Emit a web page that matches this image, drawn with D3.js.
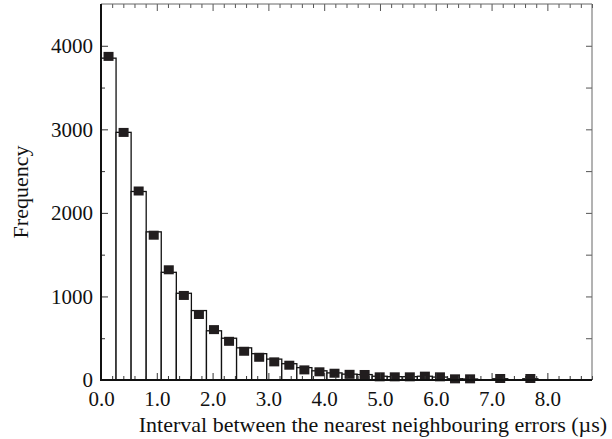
<!DOCTYPE html>
<html>
<head>
<meta charset="utf-8">
<script src="https://cdn.jsdelivr.net/npm/d3@7"></script>
<style>
  body { margin: 0; background: #fff; }
  svg text { font-family: "Liberation Serif", "Times New Roman", serif; fill: #111; }
</style>
</head>
<body>
<svg id="chart" width="612" height="439"></svg>
<script>
// histogram of intervals, bin width 0.27 us
var binWidth = 0.27;
var barCounts = [3852, 2964, 2256, 1773, 1289, 1038, 831, 589, 500, 385, 315, 250, 195, 148,
                 110, 85, 70, 65, 45, 40, 40, 45, 35, 15, 12, 0, 15, 0, 15];
// measured points drawn over the bars (null = no point)
var markerCounts = [3867, 2957, 2256, 1727, 1313, 1006, 778, 597, 457, 338, 266, 211, 171, 115,
                    92, 75, 62, 60, 32, 32, 32, 40, 32, 8, 8, null, 12, null, 12];

var xTicks = [0, 1, 2, 3, 4, 5, 6, 7, 8];
var yTicks = [0, 1000, 2000, 3000, 4000];
var xTitle = "Interval between the nearest neighbouring errors (\u00b5s)";
var yTitle = "Frequency";

var svg = d3.select("#chart");
var m = {left: 101, right: 592, top: 4, bottom: 380};

var x = d3.scaleLinear().domain([0, 8.8]).range([m.left, m.right]);
var y = d3.scaleLinear().domain([0, 4500]).range([m.bottom, m.top]);

var bins = barCounts.map(function (c, i) {
    return {x0: i * binWidth, x1: (i + 1) * binWidth, count: c, mark: markerCounts[i]};
});

// bars: white with black outline
svg.append("g").selectAll("rect").data(bins.filter(function (d) { return d.count > 0; }))
    .enter().append("rect")
    .attr("x", function (d) { return x(d.x0); })
    .attr("y", function (d) { return y(d.count); })
    .attr("width", function (d) { return x(d.x1) - x(d.x0); })
    .attr("height", function (d) { return y(0) - y(d.count); })
    .attr("fill", "#fff").attr("stroke", "#111").attr("stroke-width", 1.3);

// square markers at bin centres
var sq = 10;
svg.append("g").selectAll("rect").data(bins.filter(function (d) { return d.mark != null; }))
    .enter().append("rect")
    .attr("x", function (d) { return x((d.x0 + d.x1) / 2) - sq / 2; })
    .attr("y", function (d) { return y(d.mark) - sq / 2; })
    .attr("width", sq).attr("height", sq - 1)
    .attr("fill", "#211d1e");

// minor ticks every 0.2 / 500
var xMinor = d3.range(0, 8.81, 0.2).filter(function (v) { return Math.abs(v - Math.round(v)) > 1e-6; });
var yMinor = [500, 1500, 2500, 3500];

function styleAxis(g, col) {
    g.select(".domain").remove();
    g.selectAll(".tick line").attr("stroke", col).attr("stroke-width", 1);
}

// bottom + left with labels
var gxb = svg.append("g").attr("transform", "translate(0," + m.bottom + ")")
    .call(d3.axisBottom(x).tickValues(xTicks).tickSizeInner(-7).tickSizeOuter(0)
        .tickPadding(11).tickFormat(d3.format(".1f")));
styleAxis(gxb, "#333");
gxb.selectAll("text").attr("font-size", 21).attr("fill", "#111");
svg.append("g").attr("transform", "translate(0," + m.bottom + ")")
    .call(d3.axisBottom(x).tickValues(xMinor).tickSizeInner(-4).tickSizeOuter(0).tickFormat(""))
    .call(styleAxis, "#333");

var gyl = svg.append("g").attr("transform", "translate(" + m.left + ",0)")
    .call(d3.axisLeft(y).tickValues(yTicks).tickSizeInner(-7).tickSizeOuter(0)
        .tickPadding(8).tickFormat(d3.format("d")));
styleAxis(gyl, "#333");
gyl.selectAll("text").attr("font-size", 21).attr("fill", "#111");
svg.append("g").attr("transform", "translate(" + m.left + ",0)")
    .call(d3.axisLeft(y).tickValues(yMinor).tickSizeInner(-4).tickSizeOuter(0).tickFormat(""))
    .call(styleAxis, "#333");

// top + right, ticks only
svg.append("g").attr("transform", "translate(0," + m.top + ")")
    .call(d3.axisTop(x).tickValues(xTicks).tickSizeInner(-7).tickSizeOuter(0).tickFormat(""))
    .call(styleAxis, "#555");
svg.append("g").attr("transform", "translate(0," + m.top + ")")
    .call(d3.axisTop(x).tickValues(xMinor).tickSizeInner(-4).tickSizeOuter(0).tickFormat(""))
    .call(styleAxis, "#555");
svg.append("g").attr("transform", "translate(" + m.right + ",0)")
    .call(d3.axisRight(y).tickValues(yTicks.concat(yMinor)).tickSizeInner(-6).tickSizeOuter(0).tickFormat(""))
    .call(styleAxis, "#555");

// frame: thin grey top/right, heavier black left/bottom
svg.append("line").attr("x1", m.left).attr("x2", m.right).attr("y1", m.top).attr("y2", m.top)
    .attr("stroke", "#666").attr("stroke-width", 1);
svg.append("line").attr("x1", m.right).attr("x2", m.right).attr("y1", m.top).attr("y2", m.bottom)
    .attr("stroke", "#666").attr("stroke-width", 1);
svg.append("line").attr("x1", m.left).attr("x2", m.left).attr("y1", m.top).attr("y2", m.bottom + 1)
    .attr("stroke", "#111").attr("stroke-width", 2);
svg.append("line").attr("x1", m.left - 1).attr("x2", m.right).attr("y1", m.bottom).attr("y2", m.bottom)
    .attr("stroke", "#111").attr("stroke-width", 2);

// titles
svg.append("text").attr("x", 373).attr("y", 432).attr("text-anchor", "middle")
    .attr("font-size", 22).text(xTitle);
svg.append("text").attr("transform", "translate(28,192) rotate(-90)").attr("text-anchor", "middle")
    .attr("font-size", 22).text(yTitle);
</script>
</body>
</html>
